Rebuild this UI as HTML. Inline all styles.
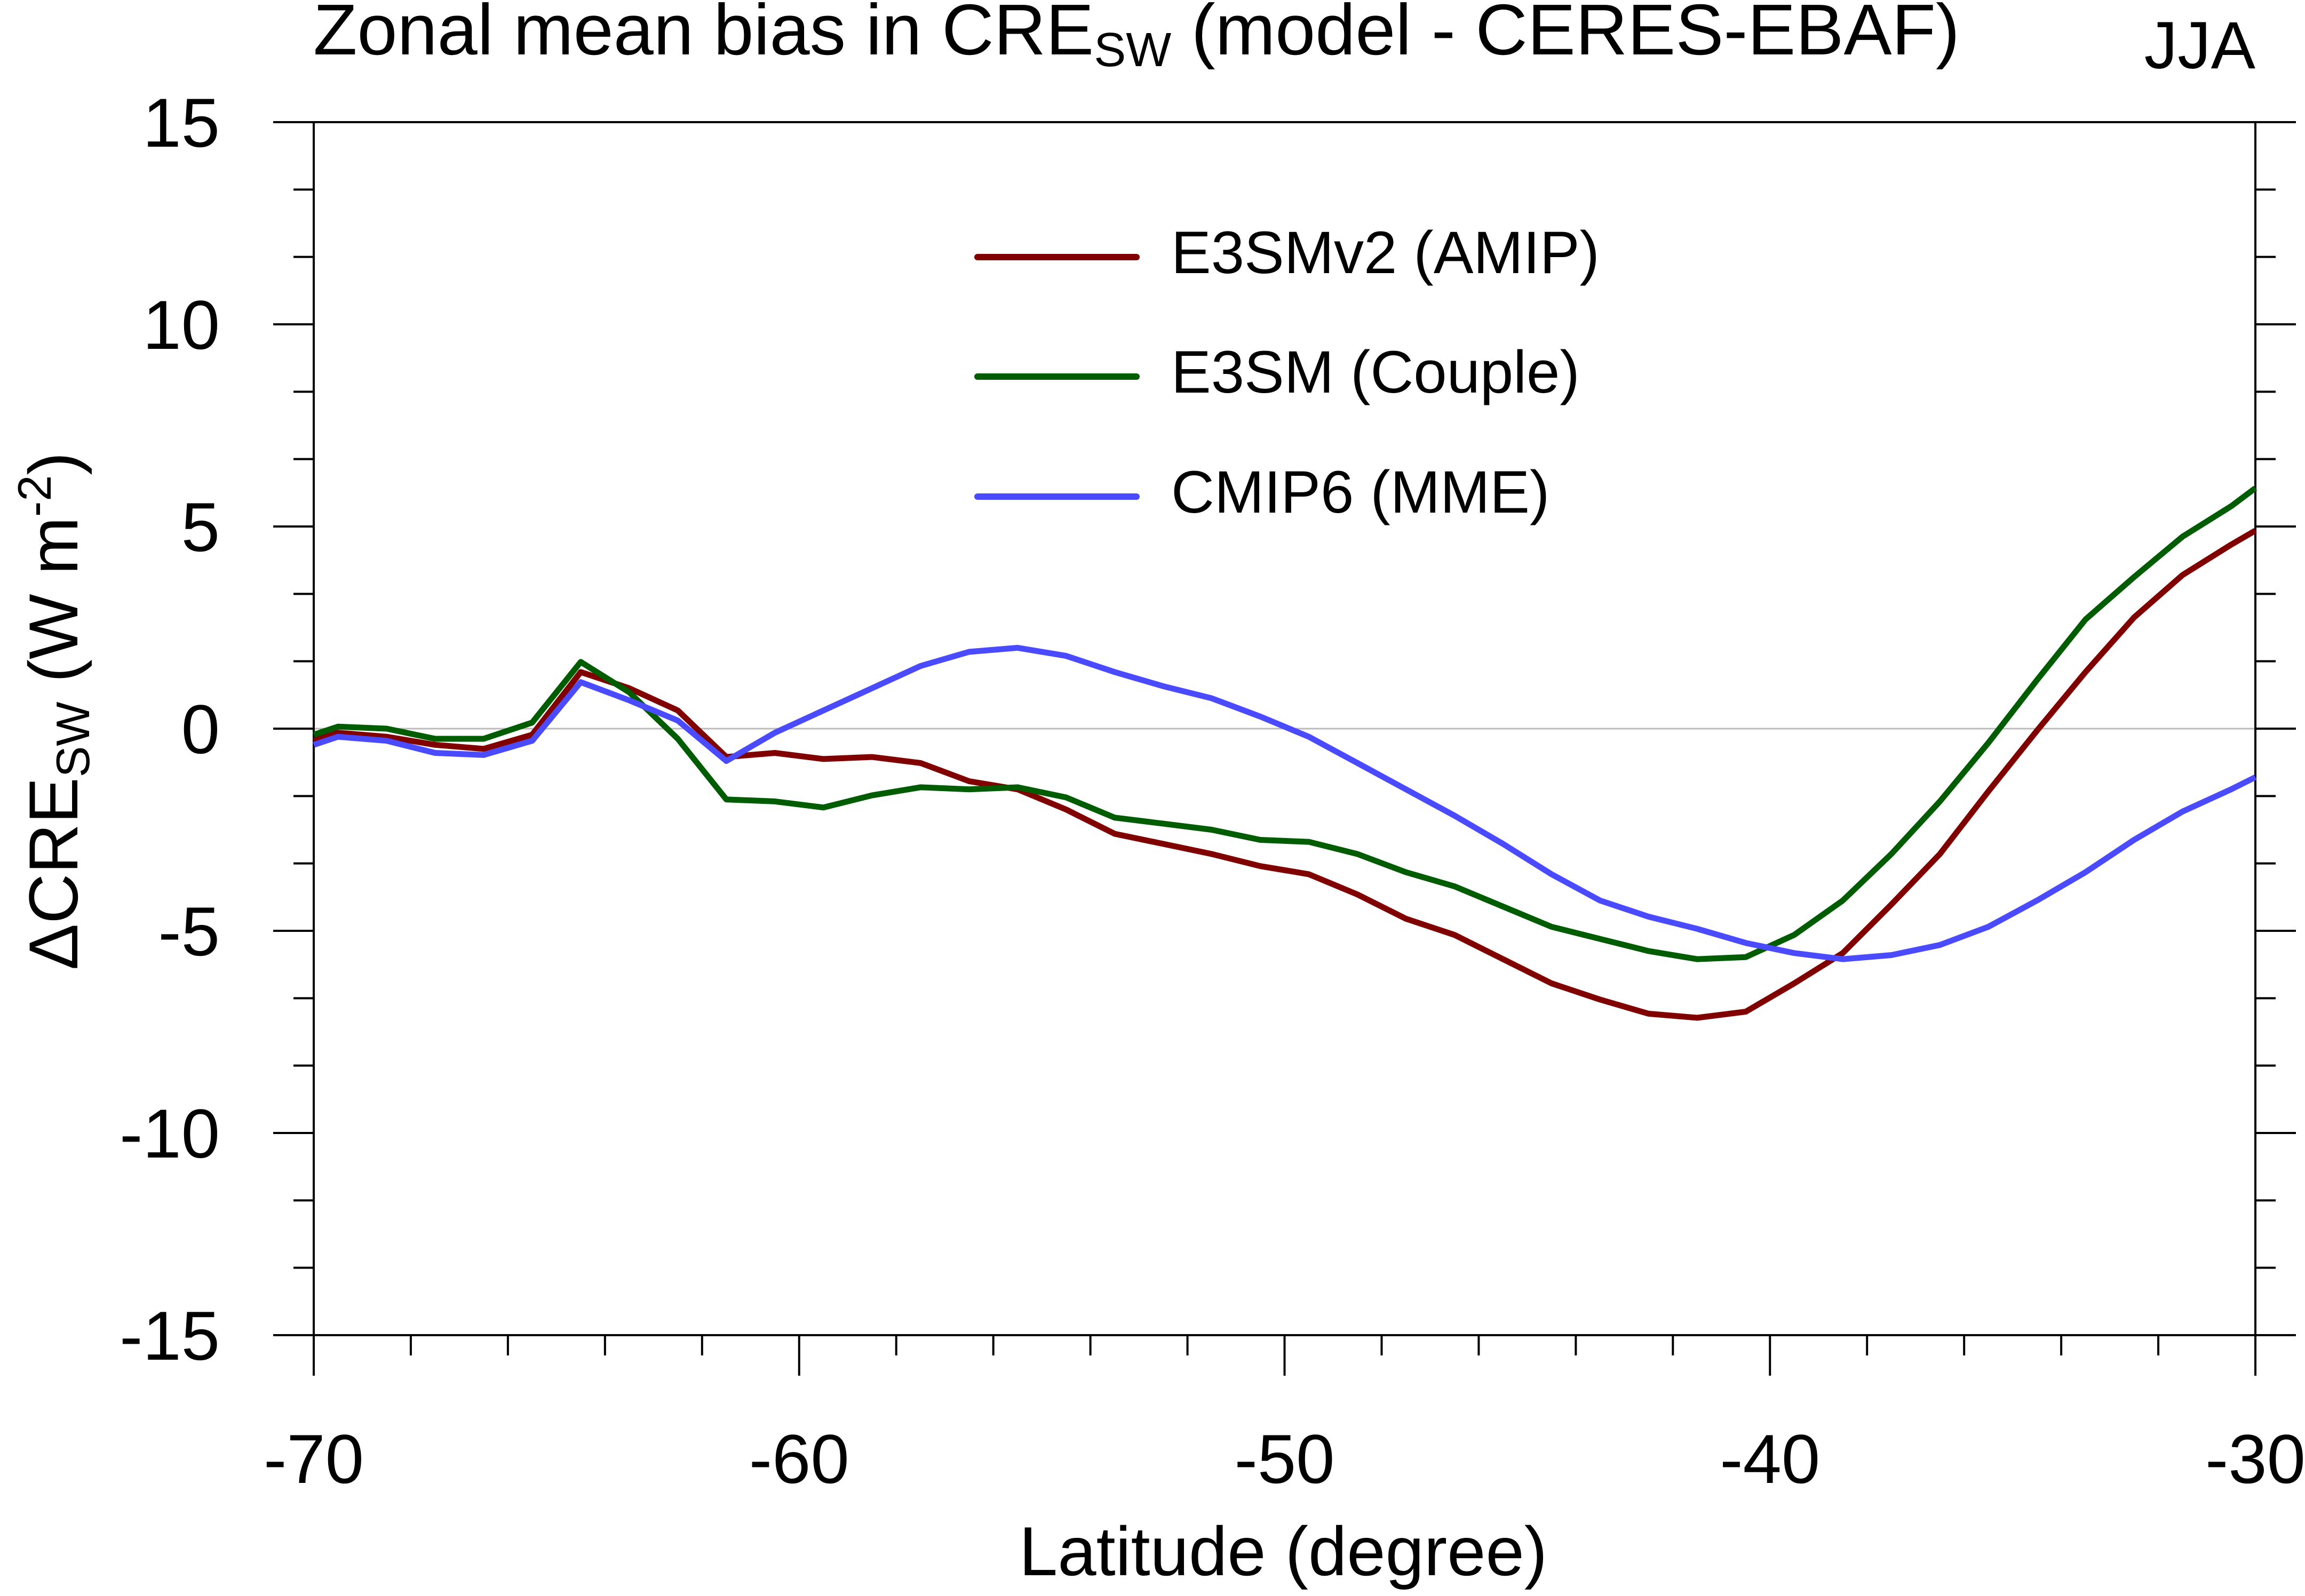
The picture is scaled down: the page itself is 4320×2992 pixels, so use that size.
<!DOCTYPE html>
<html><head><meta charset="utf-8"><style>
html,body{margin:0;padding:0;background:#fff}
svg{display:block}
text{font-family:"Liberation Sans",Arial,sans-serif;fill:#000}
</style></head><body>
<svg id="chart" width="4320" height="2992" viewBox="0 0 4320 2992" xmlns="http://www.w3.org/2000/svg">
<text x="587" y="102" font-size="135">Zonal mean bias in CRE<tspan font-size="90" dy="22">SW</tspan><tspan dy="-22"> (model - CERES-EBAF)</tspan></text>
<text x="4227" y="128" font-size="125" text-anchor="end">JJA</text>
<text transform="translate(145,1333) rotate(-90)" font-size="130" text-anchor="middle">ΔCRE<tspan font-size="88" dy="22">SW</tspan><tspan dy="-22"> (W m</tspan><tspan font-size="88" dy="-50">-2</tspan><tspan dy="50">)</tspan></text>
<text x="2405" y="2953" font-size="130" text-anchor="middle">Latitude (degree)</text>
<g id="axes"></g>
<g id="series"></g>
<g id="legend"></g>
</svg>
<script>
const lats = [-70,-69.5,-68.5,-67.5,-66.5,-65.5,-64.5,-63.5,-62.5,-61.5,-60.5,-59.5,-58.5,-57.5,-56.5,-55.5,-54.5,-53.5,-52.5,-51.5,-50.5,-49.5,-48.5,-47.5,-46.5,-45.5,-44.5,-43.5,-42.5,-41.5,-40.5,-39.5,-38.5,-37.5,-36.5,-35.5,-34.5,-33.5,-32.5,-31.5,-30.5,-30];
const e3smv2 = [-0.3,-0.1,-0.2,-0.4,-0.5,-0.15,1.4,1.0,0.45,-0.7,-0.6,-0.75,-0.7,-0.85,-1.3,-1.5,-2.0,-2.6,-2.85,-3.1,-3.4,-3.6,-4.1,-4.7,-5.1,-5.7,-6.3,-6.7,-7.05,-7.15,-7.0,-6.3,-5.55,-4.35,-3.1,-1.55,-0.05,1.4,2.75,3.8,4.55,4.9];
const e3smCouple = [-0.15,0.05,0,-0.25,-0.25,0.15,1.65,0.9,-0.25,-1.75,-1.8,-1.95,-1.65,-1.45,-1.5,-1.45,-1.7,-2.2,-2.35,-2.5,-2.75,-2.8,-3.1,-3.55,-3.9,-4.4,-4.9,-5.2,-5.5,-5.7,-5.65,-5.1,-4.25,-3.1,-1.8,-0.35,1.2,2.7,3.75,4.75,5.5,5.95];
const cmip6 = [-0.4,-0.2,-0.3,-0.6,-0.65,-0.3,1.15,0.7,0.2,-0.8,-0.1,0.45,1.0,1.55,1.9,2.0,1.8,1.4,1.05,0.75,0.3,-0.2,-0.85,-1.5,-2.15,-2.85,-3.6,-4.25,-4.65,-4.95,-5.3,-5.55,-5.7,-5.6,-5.35,-4.9,-4.25,-3.55,-2.75,-2.05,-1.5,-1.2];
const xTicks = [-70,-60,-50,-40,-30];
const yTicks = [15,10,5,0,-5,-10,-15];
const seriesNames = ["E3SMv2 (AMIP)","E3SM (Couple)","CMIP6 (MME)"];

const NS="http://www.w3.org/2000/svg";
const L=588,R=4227,T=229,B=2503;
const X0=-70,X1=-30,Y0=-15,Y1=15;
function sx(v){return L+(v-X0)/(X1-X0)*(R-L);}
function sy(v){return B-(v-Y0)/(Y1-Y0)*(B-T);}
function mk(tag,attrs,parent){const e=document.createElementNS(NS,tag);for(const k in attrs)e.setAttribute(k,attrs[k]);parent.appendChild(e);return e;}
const axes=document.getElementById('axes');
// zero line
const z=mk('line',{x1:L,x2:R,y1:sy(0),y2:sy(0),stroke:'#bbb','stroke-width':3},axes);


// frame
const fr=mk('rect',{x:L,y:T,width:R-L,height:B-T,fill:'none',stroke:'#000','stroke-width':4},axes);


// x ticks
for(let v=X0;v<=X1;v+=2){
  const major=(v%10===0);
  const t=mk('line',{x1:sx(v),x2:sx(v),y1:B,y2:B+(major?76:38),stroke:'#000','stroke-width':4},axes);
  
  
}
xTicks.forEach(v=>{
  const t=mk('text',{x:sx(v),y:2780,'font-size':130,'text-anchor':'middle'},axes);
  t.textContent=String(v);
  
  
});
// y ticks
for(let i=0;i<=18;i++){
  const v=Y0+i*5/3;
  const major=(i%3===0);
  const len=major?76:38;
  const a=mk('line',{x1:L-len,x2:L,y1:sy(v),y2:sy(v),stroke:'#000','stroke-width':4},axes);
  
  
  const b=mk('line',{x1:R,x2:R+len,y1:sy(v),y2:sy(v),stroke:'#000','stroke-width':4},axes);
  
  
}
yTicks.forEach(v=>{
  const t=mk('text',{x:412,y:sy(v)+46,'font-size':130,'text-anchor':'end'},axes);
  t.textContent=String(v);
  
  
});
// series
const colors=['#800000','#005c00','#4a4aff'];
const data=[e3smv2,e3smCouple,cmip6];
const sg=document.getElementById('series');
const sn=['line-e3smv2-amip','line-e3sm-couple','line-cmip6-mme'];
data.forEach((arr,k)=>{
  const pts=arr.map((v,i)=>sx(lats[i]).toFixed(1)+','+sy(v).toFixed(1)).join(' ');
  const p=mk('polyline',{points:pts,fill:'none',stroke:colors[k],'stroke-width':11,'stroke-linejoin':'round'},sg);
  
  
});
// legend
const lg=document.getElementById('legend');
const ly=[482,706,931];
seriesNames.forEach((n,k)=>{
  const l=mk('line',{x1:1832,x2:2130,y1:ly[k],y2:ly[k],stroke:colors[k],'stroke-width':12,'stroke-linecap':'round'},lg);
  
  
  const t=mk('text',{x:2195,y:ly[k]+30,'font-size':112},lg);
  t.textContent=n;
  
  
});
</script>
</body></html>
